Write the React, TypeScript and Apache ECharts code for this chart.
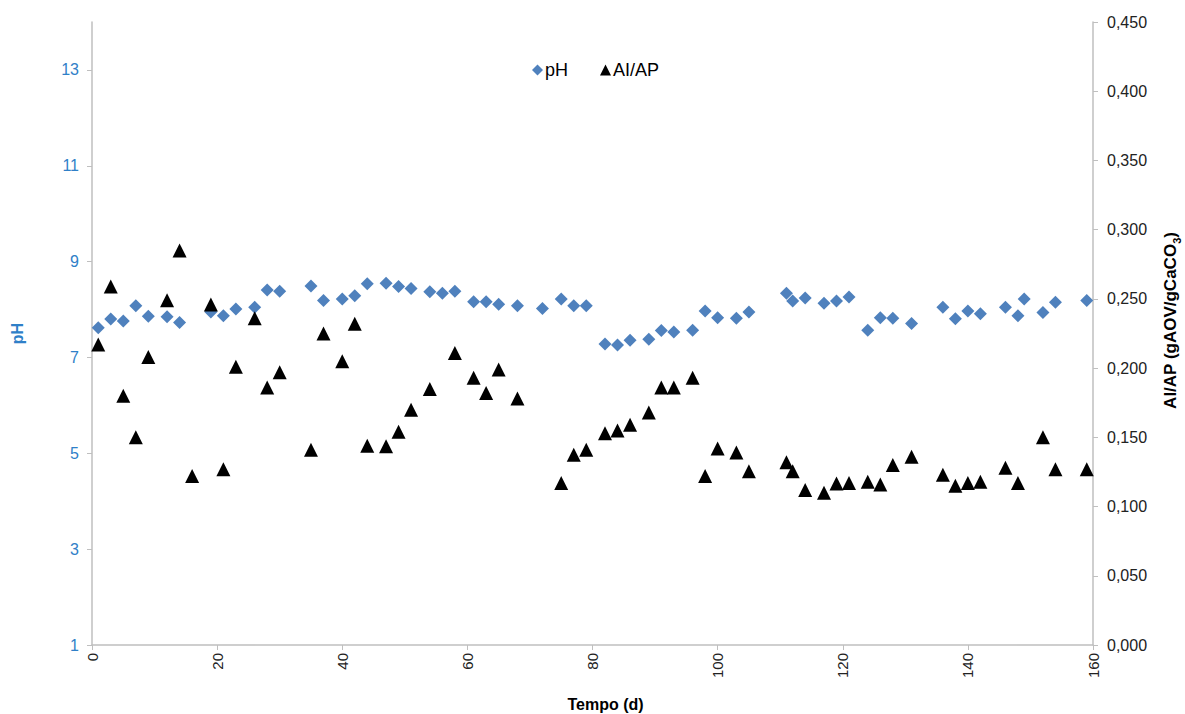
import React, { useEffect, useRef } from 'react';
import * as echarts from 'echarts';

const phDays = [1, 3, 5, 7, 9, 12, 14, 19, 21, 23, 26, 28, 30, 35, 37, 40, 42, 44, 47, 49, 51, 54, 56, 58, 61, 63, 65, 68, 72, 75, 77, 79, 82, 84, 86, 89, 91, 93, 96, 98, 100, 103, 105, 111, 112, 114, 117, 119, 121, 124, 126, 128, 131, 136, 138, 140, 142, 146, 148, 149, 152, 154, 159];
const phValues = [7.62, 7.8, 7.76, 8.08, 7.86, 7.85, 7.73, 7.95, 7.87, 8.01, 8.05, 8.41, 8.38, 8.49, 8.19, 8.22, 8.29, 8.54, 8.55, 8.48, 8.44, 8.37, 8.34, 8.38, 8.16, 8.16, 8.11, 8.08, 8.02, 8.22, 8.08, 8.08, 7.28, 7.26, 7.36, 7.38, 7.56, 7.53, 7.57, 7.97, 7.83, 7.82, 7.95, 8.34, 8.18, 8.24, 8.13, 8.18, 8.26, 7.57, 7.83, 7.82, 7.71, 8.05, 7.81, 7.97, 7.91, 8.05, 7.87, 8.22, 7.94, 8.15, 8.19];

const aiDays = [1, 3, 5, 7, 9, 12, 14, 16, 19, 21, 23, 26, 28, 30, 35, 37, 40, 42, 44, 47, 49, 51, 54, 58, 61, 63, 65, 68, 75, 77, 79, 82, 84, 86, 89, 91, 93, 96, 98, 100, 103, 105, 111, 112, 114, 117, 119, 121, 124, 126, 128, 131, 136, 138, 140, 142, 146, 148, 152, 154, 159];
const aiValues = [0.217, 0.259, 0.18, 0.15, 0.208, 0.249, 0.285, 0.122, 0.246, 0.127, 0.201, 0.236, 0.186, 0.197, 0.141, 0.225, 0.205, 0.232, 0.144, 0.1435, 0.154, 0.17, 0.185, 0.211, 0.193, 0.182, 0.199, 0.178, 0.117, 0.1375, 0.141, 0.153, 0.155, 0.159, 0.168, 0.186, 0.186, 0.193, 0.122, 0.142, 0.139, 0.1255, 0.132, 0.1255, 0.112, 0.11, 0.1166, 0.117, 0.118, 0.116, 0.13, 0.136, 0.123, 0.115, 0.117, 0.118, 0.128, 0.117, 0.15, 0.127, 0.127];

const phTicks = [1, 3, 5, 7, 9, 11, 13];

const FONT = "'Liberation Sans', Arial, Helvetica, sans-serif";

export default function App() {
  const ref = useRef<HTMLDivElement>(null);
  useEffect(() => {
    const chart = echarts.init(ref.current!, null, { renderer: 'svg', width: 1185, height: 714 });
    const axisLine = { show: true, lineStyle: { color: '#BFBFBF', width: 1.5 } };
    chart.setOption({
      animation: false,
      backgroundColor: '#ffffff',
      textStyle: { fontFamily: FONT },
      grid: { left: 92, right: 92, top: 22, bottom: 69, containLabel: false, outerBoundsMode: 'none' },
      legend: {
        left: 527,
        top: 56,
        itemWidth: 11,
        itemHeight: 11,
        itemGap: 32,
        textStyle: { fontSize: 18, color: '#000', fontFamily: FONT, padding: [0, 0, 0, -3] },
        data: [
          { name: 'pH', icon: 'diamond' },
          { name: 'AI/AP', icon: 'triangle' },
        ],
      },
      xAxis: {
        type: 'value',
        min: 0,
        max: 160,
        interval: 20,
        name: 'Tempo (d)',
        nameLocation: 'middle',
        nameGap: 51,
        nameTextStyle: { fontSize: 16, fontWeight: 'bold', color: '#000', fontFamily: FONT, padding: [0, 0, 0, 26] },
        axisLine,
        axisTick: { show: true, length: 5, lineStyle: { color: '#BFBFBF' } },
        axisLabel: { rotate: 90, fontSize: 15, color: '#222', margin: 8, fontFamily: FONT },
        splitLine: { show: false },
      },
      yAxis: [
        {
          type: 'value',
          position: 'left',
          min: 1,
          max: 14,
          interval: 2,
          name: 'pH',
          nameLocation: 'middle',
          nameGap: 67,
          nameRotate: 90,
          nameTextStyle: { fontSize: 16, fontWeight: 'bold', color: '#2F80C8', fontFamily: FONT },
          axisLine,
          axisTick: { show: true, length: 5, customValues: phTicks, lineStyle: { color: '#BFBFBF' } },
          axisLabel: { fontSize: 16, color: '#2F80C8', margin: 13, customValues: phTicks, fontFamily: FONT },
          splitLine: { show: false },
        },
        {
          type: 'value',
          position: 'right',
          min: 0,
          max: 0.45,
          interval: 0.05,
          name: '{b|AI/AP (gAOV/gCaCO}{s|3}{b|)}',
          nameLocation: 'middle',
          nameGap: 65,
          nameRotate: 90,
          nameTextStyle: {
            padding: [0, 0, 0, 26],
            rich: {
              b: { fontSize: 17, fontWeight: 'bold', color: '#000', fontFamily: FONT, lineHeight: 24 },
              s: { fontSize: 11, fontWeight: 'bold', color: '#000', fontFamily: FONT, lineHeight: 11, verticalAlign: 'bottom' },
            },
          },
          axisLine,
          axisTick: { show: true, length: 5, lineStyle: { color: '#BFBFBF' } },
          axisLabel: {
            fontSize: 16,
            color: '#222',
            margin: 14,
            fontFamily: FONT,
            formatter: (v: number) => v.toFixed(3).replace('.', ','),
          },
          splitLine: { show: false },
        },
      ],
      series: [
        {
          name: 'pH',
          type: 'scatter',
          yAxisIndex: 0,
          symbol: 'diamond',
          symbolSize: 13,
          itemStyle: { color: '#4F81BD', opacity: 1 },
          data: phDays.map((d, i) => [d, phValues[i]]),
        },
        {
          name: 'AI/AP',
          type: 'scatter',
          yAxisIndex: 1,
          symbol: 'triangle',
          symbolSize: 14,
          itemStyle: { color: '#000000', opacity: 1 },
          data: aiDays.map((d, i) => [d, aiValues[i]]),
        },
      ],
    });
    return () => chart.dispose();
  }, []);
  return <div ref={ref} style={{ position: 'fixed', left: 0, top: 0, width: 1185, height: 714 }} />;
}
